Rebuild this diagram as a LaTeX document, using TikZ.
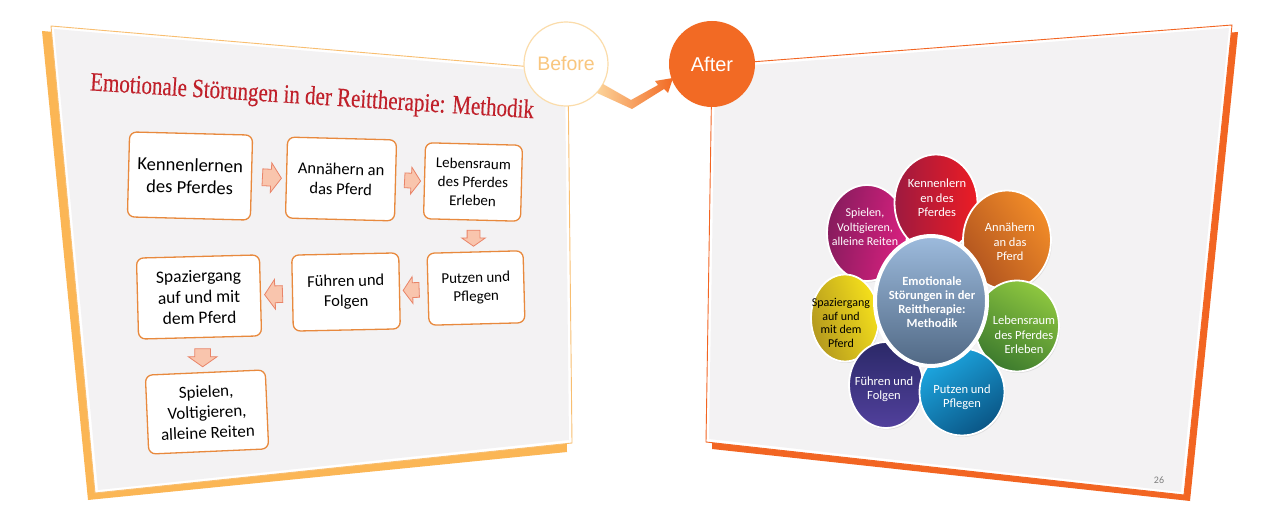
\documentclass[tikz,border=0pt]{standalone}
\usepackage{fontspec}
\setmainfont{Carlito}
\newfontfamily\lsans{Liberation Sans}
\newfontfamily\lserif[FakeBold=0.35]{Liberation Serif}
\usetikzlibrary{shapes.geometric,shapes.arrows,calc,shadows}
\definecolor{lshadow}{HTML}{FBB655}
\definecolor{lline}{HTML}{F8BE70}
\definecolor{panelgray}{HTML}{F3F2F3}
\definecolor{rshadow}{HTML}{F26522}
\definecolor{titlered}{HTML}{C0202A}
\definecolor{boxorange}{HTML}{E8893D}
\definecolor{arrowfill}{HTML}{F9C5AD}
\definecolor{arrowline}{HTML}{E98468}
\definecolor{beforeline}{HTML}{FBDCAA}
\definecolor{beforetext}{HTML}{F9C67E}
\definecolor{afterfill}{HTML}{F26A24}
\definecolor{redA}{HTML}{EC1C24}\definecolor{redB}{HTML}{9E1A40}
\definecolor{orA}{HTML}{F28C28}\definecolor{orB}{HTML}{B0531F}
\definecolor{grA}{HTML}{8DC63F}\definecolor{grB}{HTML}{3D7B2E}
\definecolor{blA}{HTML}{1DA8E2}\definecolor{blB}{HTML}{0A5686}
\definecolor{puA}{HTML}{2B2968}\definecolor{puB}{HTML}{51409C}
\definecolor{yeA}{HTML}{F7E21B}\definecolor{yeB}{HTML}{B3981E}
\definecolor{maA}{HTML}{DA2080}\definecolor{maB}{HTML}{861C5D}
\definecolor{ceA}{HTML}{9DBBDD}\definecolor{ceB}{HTML}{506884}
\begin{document}
\begin{tikzpicture}[x=1pt,y=-1pt,
  stepbox/.style={draw=boxorange, line width=1.3pt, fill=white, rounded corners=7pt,
    align=center, inner sep=2pt, font=\fontsize{15.5}{19}\selectfont},
  blockarrow/.style={single arrow, draw=arrowline, fill=arrowfill, line width=0.8pt,
    inner xsep=0pt, single arrow tip angle=110},
  petal/.style={ellipse, draw=white, line width=1.8pt, inner sep=0pt,
    drop shadow={opacity=0.18, shadow xshift=1pt, shadow yshift=-1.5pt}},
  ptext/.style={align=center, text=white, font=\fontsize{12.5}{14.5}\selectfont, inner sep=0pt}
]
\useasboundingbox (0,0) rectangle (1280,510);
\fill[white] (0,0) rectangle (1280,510);

% ---------- left panel ----------
\fill[lshadow] (42,31) -- (562,75) -- (567,452) -- (88,500) -- cycle;
\filldraw[fill=white, draw=lline, line width=0.9pt] (51,26) -- (568,70) -- (572,443) -- (95,493) -- cycle;
\fill[panelgray] (54,29) -- (565,73) -- (569,440) -- (98,490) -- cycle;

\node[font=\lserif\fontsize{24}{28}\selectfont, text=titlered, rotate=-3.6, xscale=0.875, yscale=1.1, inner sep=0pt] (title) at (312,98)
  {Emotionale Störungen in der Reittherapie: Methodik};

\node[stepbox, minimum width=123, minimum height=85, rotate=-1.5, font=\fontsize{18.5}{22}\selectfont] (b1) at (190,176) {Kennenlernen\\des Pferdes};
\node[stepbox, minimum width=109, minimum height=81, rotate=-1.5, font=\fontsize{16.5}{20}\selectfont] (b2) at (341,179) {Annähern an\\das Pferd};
\node[stepbox, minimum width=97, minimum height=76, rotate=-1.5, font=\fontsize{15}{18.5}\selectfont] (b3) at (473,182) {Lebensraum\\des Pferdes\\Erleben};
\node[stepbox, minimum width=96, minimum height=72, rotate=1.5, font=\fontsize{15}{18.5}\selectfont] (b4) at (476,288) {Putzen und\\Pflegen};
\node[stepbox, minimum width=107, minimum height=76, rotate=1.2, font=\fontsize{16.5}{20}\selectfont] (b5) at (346,292) {Führen und\\Folgen};
\node[stepbox, minimum width=123, minimum height=81, rotate=1.5, font=\fontsize{17.5}{21}\selectfont] (b6) at (199,297) {Spaziergang\\auf und mit\\dem Pferd};
\node[stepbox, minimum width=120, minimum height=79, rotate=2.5, font=\fontsize{17}{20.5}\selectfont] (b7) at (207,412) {Spielen,\\Voltigieren,\\alleine Reiten};

\node[blockarrow, minimum height=19, inner ysep=8pt, single arrow head extend=6.5pt, rotate=-3] at ($(b1.east)!0.5!(b2.west)$) {};
\node[blockarrow, minimum height=16, inner ysep=7pt, single arrow head extend=6pt, rotate=-3] at ($(b2.east)!0.5!(b3.west)$) {};
\node[blockarrow, minimum height=16, inner ysep=6pt, single arrow head extend=5.5pt, rotate=-90] at ($(b3.south)!0.5!(b4.north)$) {};
\node[blockarrow, minimum height=16, inner ysep=7pt, single arrow head extend=6pt, rotate=182] at ($(b4.west)!0.5!(b5.east)$) {};
\node[blockarrow, minimum height=18, inner ysep=8pt, single arrow head extend=6.5pt, rotate=182] at ($(b5.west)!0.5!(b6.east)$) {};
\node[blockarrow, minimum height=18, inner ysep=7.5pt, single arrow head extend=6.5pt, rotate=-90] at ($(b6.south)!0.5!(b7.north)$) {};

% ---------- right panel ----------
\fill[rshadow] (718,70) -- (1238,32) -- (1190,501) -- (712,449) -- cycle;
\filldraw[fill=white, draw=rshadow, line width=0.9pt] (712,65) -- (1232,25) -- (1184,495) -- (706,442) -- cycle;
\fill[panelgray] (715,68) -- (1229,28) -- (1181,492) -- (709,439) -- cycle;

\node[font=\fontsize{10}{12}\selectfont, text=black!50] (pg) at (1159,480) {26};

% petals
\node[petal, minimum width=80, minimum height=96, top color=maA, bottom color=maB, shading angle=-100] (p7) at (867,233) {};
\node[petal, minimum width=68, minimum height=87, top color=yeA, bottom color=yeB, shading angle=-70] (p6) at (845,318) {};
\node[petal, minimum width=74, minimum height=86, top color=puA, bottom color=puB, shading angle=0] (p5) at (886,385) {};
\node[petal, minimum width=83, minimum height=97, top color=redA, bottom color=redB, shading angle=-90] (p1) at (936,203) {};
\node[petal, minimum width=88, minimum height=99, top color=orA, bottom color=orB, shading angle=-55] (p2) at (1007,240) {};
\node[petal, minimum width=84, minimum height=91, top color=grA, bottom color=grB, shading angle=-30] (p3) at (1017,326) {};
\node[petal, minimum width=85, minimum height=87, top color=blA, bottom color=blB, shading angle=35] (p4) at (962,392) {};
\node[ellipse, draw=white, line width=4pt, minimum width=112, minimum height=130, top color=ceA, bottom color=ceB,
  drop shadow={opacity=0.25, shadow xshift=1pt, shadow yshift=-2pt}] (ctr) at (931,301) {};

\node[ptext] at ($(p1)+(1,-5)$) {Kennenlern\\en des\\Pferdes};
\node[ptext] at ($(p2)+(3,2)$) {Annähern\\an das\\Pferd};
\node[ptext] at ($(p3)+(7,9)$) {Lebensraum\\des Pferdes\\Erleben};
\node[ptext] at ($(p4)+(0,5)$) {Putzen und\\Pflegen};
\node[ptext] at ($(p5)+(-2,4)$) {Führen und\\Folgen};
\node[ptext, text=black, font=\fontsize{12}{13.5}\selectfont] at ($(p6)+(-4,5)$) {Spaziergang\\auf und\\mit dem\\Pferd};
\node[ptext, font=\fontsize{12}{14.5}\selectfont] at ($(p7)+(-2,-6)$) {Spielen,\\Voltigieren,\\alleine Reiten};
\node[ptext, font=\bfseries\fontsize{12.5}{14}\selectfont] at ($(ctr)+(1,1)$) {Emotionale\\Störungen in der\\Reittherapie:\\Methodik};

% ---------- circles ----------
\node[circle, draw=beforeline, fill=white, line width=1.2pt, minimum size=84, inner sep=0pt,
  text=beforetext, font=\lsans\fontsize{19.5}{23}\selectfont] (before) at (566,64) {Before};
\node[circle, fill=afterfill, minimum size=86, inner sep=0pt, text=white,
  font=\lsans\fontsize{20}{24}\selectfont] (after) at (712,64) {After};

\shade[left color=beforeline!90!orange, right color=afterfill]
  ($(before.center)+(37,20)$) -- ($(before.center)+(65,36)$) -- ($(after.center)+(-54,21)$)
  -- ($(after.center)+(-57,17)$) -- ($(after.center)+(-39,14)$) -- ($(after.center)+(-44,29)$)
  -- ($(after.center)+(-48,25)$) -- ($(before.center)+(66,45)$) -- ($(before.center)+(31,29)$) -- cycle;
\end{tikzpicture}
\end{document}
